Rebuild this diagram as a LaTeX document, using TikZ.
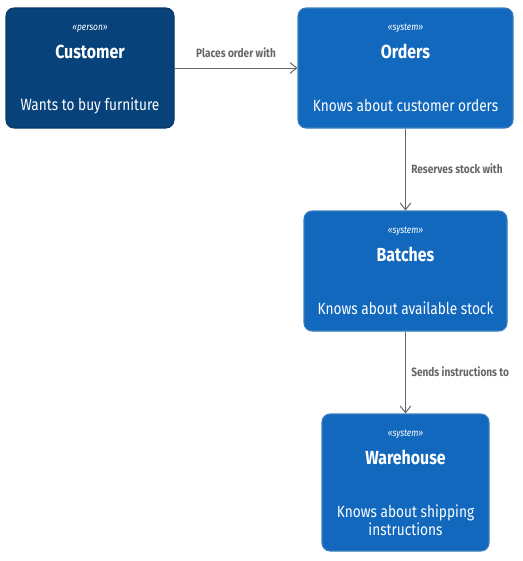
\documentclass[tikz,border=0pt]{standalone}
\usepackage{fontspec}
\setmainfont{Fira Sans}[FakeStretch=0.84]
\usetikzlibrary{
  arrows.meta,              % 箭头样式
  positioning               % 节点相对定位
}
\definecolor{personblue}{HTML}{08427B}
\definecolor{systemblue}{HTML}{1168BD}
\definecolor{systemline}{HTML}{3C7FC0}
\definecolor{relgray}{HTML}{666666}
\tikzset{
  box/.style={rectangle, rounded corners=6pt, minimum height=90pt, line width=0.8pt},
  personbox/.style={box, fill=personblue, draw=personblue!85!black},
  systembox/.style={box, fill=systemblue, draw=systemline},
  stereo/.style={text=white, font=\fontsize{7.5}{9}\selectfont\itshape, inner sep=0pt},
  title/.style={text=white, font=\fontsize{14.2}{16}\selectfont\bfseries, inner sep=0pt},
  desc/.style={text=white, font=\fontsize{12.2}{13}\selectfont, inner sep=0pt, align=center},
  rel/.style={draw=relgray, line width=0.75pt, -{Straight Barb[length=5pt,width=8pt]}},
  rellabel/.style={text=relgray, font=\fontsize{9}{10}\selectfont\bfseries, inner sep=0pt}
}

\begin{document}
\begin{tikzpicture}[x=0.75pt, y=-0.75pt]
    \useasboundingbox (0,0) rectangle (523,561);
    % 盒子
    \node[personbox, minimum width=126pt] (customer) at (90,68) {};
    \node[systembox, minimum width=161.25pt] (orders) at (405.5,68) {};
    \node[systembox, minimum width=152.25pt] (batches) at (405.5,271) {};
    \node[systembox, minimum width=125.25pt, minimum height=102.75pt] (warehouse) at (405.5,482.5) {};

    % 盒内文字
    \node[stereo] (customer-st) at ([yshift=-15.75pt]customer.north) {«person»};
    \node[title] (customer-ti) at ([yshift=-33pt]customer.north) {Customer};
    \node[desc] (customer-de) at ([yshift=-73.5pt]customer.north) {Wants to buy furniture};

    \node[stereo] (orders-st) at ([yshift=-15.75pt]orders.north) {«system»};
    \node[title] (orders-ti) at ([yshift=-33pt]orders.north) {Orders};
    \node[desc] (orders-de) at ([yshift=-73.5pt]orders.north) {Knows about customer orders};

    \node[stereo] (batches-st) at ([yshift=-15.75pt]batches.north) {«system»};
    \node[title] (batches-ti) at ([yshift=-33pt]batches.north) {Batches};
    \node[desc] (batches-de) at ([yshift=-73.5pt]batches.north) {Knows about available stock};

    \node[stereo] (warehouse-st) at ([yshift=-15.75pt]warehouse.north) {«system»};
    \node[title] (warehouse-ti) at ([yshift=-33pt]warehouse.north) {Warehouse};
    \node[desc] (warehouse-de) at ([yshift=-80pt]warehouse.north) {Knows about shipping\\instructions};

    % 关系
    \draw[rel] (customer.east) -- (orders.west);
    \draw[rel] (orders.south) -- (batches.north);
    \draw[rel] (batches.south) -- (warehouse.north);

    % 关系标注
    \node[rellabel] (l1) at (236,53) {Places order with};
    \node[rellabel, anchor=west] (l2) at (411,169) {Reserves stock with};
    \node[rellabel, anchor=west] (l3) at (411,372) {Sends instructions to};
  \end{tikzpicture}
\end{document}
